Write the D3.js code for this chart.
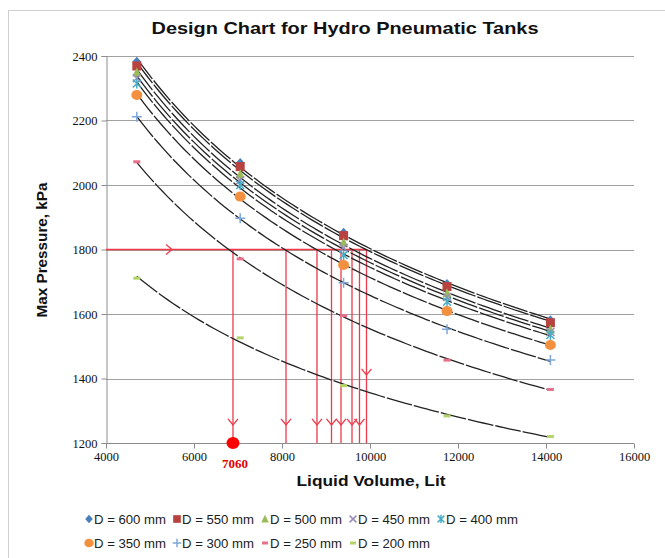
<!DOCTYPE html>
<html>
<head>
<meta charset="utf-8">
<script src="https://cdn.jsdelivr.net/npm/d3@7"></script>
<style>
  html, body { margin: 0; padding: 0; background: #fff; }
  svg { display: block; }
</style>
</head>
<body>
<div id="chart"></div>
<script>
// ---------------- DATA ----------------
const volumes = [4700, 7050, 9400, 11750, 14100];           // Liquid Volume, Lit
const seriesNames = ["D = 600 mm", "D = 550 mm", "D = 500 mm", "D = 450 mm", "D = 400 mm",
                     "D = 350 mm", "D = 300 mm", "D = 250 mm", "D = 200 mm"];
const d600 = [2382, 2068, 1852, 1693, 1581];
const d550 = [2369, 2057, 1843, 1685, 1573];
const d500 = [2349, 2033, 1822, 1664, 1552];
const d450 = [2331, 2015, 1805, 1653, 1544];
const d400 = [2315, 2000, 1783, 1638, 1535];
const d350 = [2279, 1964, 1752, 1609, 1504];
const d300 = [2212, 1897, 1697, 1553, 1457];
const d250 = [2072, 1771, 1595, 1457, 1366];
const d200 = [1711, 1526, 1378, 1284, 1220];
const seriesValues = [d600, d550, d500, d450, d400, d350, d300, d250, d200];

const xTicks = [4000, 6000, 8000, 10000, 12000, 14000, 16000];
const yTicks = [1200, 1400, 1600, 1800, 2000, 2200, 2400];

// red design annotation
const designPressure = 1800;
const crossVolumes = [6886, 8091, 8795, 9125, 9341, 9591, 9761, 9920];
const arrowPressures = [1256, 1256, 1256, 1256, 1256, 1256, 1256, 1411];
const horizArrowVolume = 5500;
const selectedLabel = "7060";

// ---------------- STYLE ----------------
const W = 665, H = 558;
const markerShapes = ["diamond", "square", "triangle", "x", "star", "circle", "plus", "dash", "dash"];
const markerColors = ["#4A7EBB", "#B8423F", "#9BBB59", "#9A8CB8", "#4BACC6",
                      "#F39040", "#7DA7D9", "#E8708A", "#B5D36B"];

const svg = d3.select("#chart").append("svg")
  .attr("width", W).attr("height", H)
  .style("font-family", "'Liberation Sans', Arial, sans-serif");

svg.append("rect").attr("width", W).attr("height", H).attr("fill", "#fff");
svg.append("rect").attr("x", 8.5).attr("y", 10.5).attr("width", 670).attr("height", 560)
  .attr("fill", "none").attr("stroke", "#d0d0d0").attr("stroke-width", 1);

const x = d3.scaleLinear().domain([4000, 16000]).range([106, 634]);
const y = d3.scaleLinear().domain([1200, 2400]).range([443, 56]);

// title
svg.append("text").attr("x", 345).attr("y", 34).attr("text-anchor", "middle")
  .attr("font-size", 17).attr("font-weight", "bold").attr("fill", "#111")
  .attr("textLength", 387).attr("lengthAdjust", "spacingAndGlyphs")
  .text("Design Chart for Hydro Pneumatic Tanks");

// gridlines
svg.append("g").selectAll("line").data(yTicks.filter(t => t !== 1200)).join("line")
  .attr("x1", x(4000)).attr("x2", x(16000))
  .attr("y1", d => Math.round(y(d)) + 0.5).attr("y2", d => Math.round(y(d)) + 0.5)
  .attr("stroke", "#a0a0a0").attr("stroke-width", 1);

// axes
const yAxis = d3.axisLeft(y).tickValues(yTicks).tickSize(5).tickPadding(4).tickFormat(d3.format("d"));
const gy = svg.append("g").attr("transform", `translate(${x(4000) + 0.5},0)`).call(yAxis);
const xAxis = d3.axisBottom(x).tickValues(xTicks).tickSize(5).tickPadding(4).tickFormat(d3.format("d"));
const gx = svg.append("g").attr("transform", `translate(0,${Math.round(y(1200)) + 0.5})`).call(xAxis);
[gx, gy].forEach(g => {
  g.select(".domain").attr("stroke", "#8c8c8c");
  g.selectAll(".tick line").attr("stroke", "#8c8c8c");
  g.selectAll(".tick text").attr("fill", "#111").attr("font-size", 12.5)
    .attr("font-family", "'Liberation Serif', 'Times New Roman', serif");
});
gx.select(".domain").attr("d", `M${x(4000)},0H${x(16000)}`);

// axis titles
svg.append("text").attr("x", 371).attr("y", 486).attr("text-anchor", "middle")
  .attr("font-size", 14.5).attr("font-weight", "bold").attr("fill", "#111")
  .attr("textLength", 149).attr("lengthAdjust", "spacingAndGlyphs")
  .text("Liquid Volume, Lit");
svg.append("text").attr("transform", `translate(47,${250}) rotate(-90)`)
  .attr("text-anchor", "middle")
  .attr("font-size", 14).attr("font-weight", "bold").attr("fill", "#111")
  .attr("textLength", 135).attr("lengthAdjust", "spacingAndGlyphs")
  .text("Max Pressure, kPa");

// red annotation lines
const red = "#EE3A4A";
const ann = svg.append("g").attr("stroke", red).attr("stroke-width", 1.3).attr("fill", "none");
ann.append("line").attr("x1", x(4000)).attr("x2", x(d3.max(crossVolumes)))
  .attr("y1", y(designPressure)).attr("y2", y(designPressure));
ann.selectAll("line.v").data(crossVolumes).join("line").attr("class", "v")
  .attr("x1", d => x(d)).attr("x2", d => x(d))
  .attr("y1", y(designPressure)).attr("y2", y(1200));
ann.selectAll("path.arr").data(crossVolumes).join("path").attr("class", "arr")
  .attr("d", (d, i) => {
    const cx = x(d), cy = y(arrowPressures[i]);
    return `M${cx - 5},${cy - 6}L${cx},${cy}L${cx + 5},${cy - 6}`;
  });
ann.append("path").attr("d", () => {
  const cx = x(horizArrowVolume), cy = y(designPressure);
  return `M${cx - 6},${cy - 5}L${cx},${cy}L${cx - 6},${cy + 5}`;
});

// trend curves (power fit y = a*x^b)
function powerFit(xs, ys) {
  const lx = xs.map(Math.log), ly = ys.map(Math.log);
  const mx = d3.mean(lx), my = d3.mean(ly);
  const b = d3.sum(lx.map((v, i) => (v - mx) * (ly[i] - my))) / d3.sum(lx.map(v => (v - mx) ** 2));
  const a = Math.exp(my - b * mx);
  return v => a * Math.pow(v, b);
}
const line = d3.line().x(d => x(d[0])).y(d => y(d[1])).curve(d3.curveLinear);
const samples = d3.range(0, 81).map(i => volumes[0] + (volumes[volumes.length - 1] - volumes[0]) * i / 80);
seriesValues.forEach(vals => {
  const f = powerFit(volumes, vals);
  svg.append("path").datum(samples.map(v => [v, f(v)]))
    .attr("d", line).attr("fill", "none").attr("stroke", "#222")
    .attr("stroke-width", 1.3).attr("stroke-dasharray", "26,2");
});

// markers
function drawMarker(g, shape, color, cx, cy, s = 1) {
  switch (shape) {
    case "diamond":
      g.append("path").attr("d", `M${cx},${cy - 5 * s}L${cx + 4.5 * s},${cy}L${cx},${cy + 5 * s}L${cx - 4.5 * s},${cy}Z`).attr("fill", color); break;
    case "square":
      g.append("rect").attr("x", cx - 4.5 * s).attr("y", cy - 4.5 * s).attr("width", 9 * s).attr("height", 9 * s).attr("fill", color); break;
    case "triangle":
      g.append("path").attr("d", `M${cx},${cy - 5 * s}L${cx + 4.5 * s},${cy + 4 * s}L${cx - 4.5 * s},${cy + 4 * s}Z`).attr("fill", color); break;
    case "x":
      g.append("path").attr("d", `M${cx - 4 * s},${cy - 4 * s}L${cx + 4 * s},${cy + 4 * s}M${cx + 4 * s},${cy - 4 * s}L${cx - 4 * s},${cy + 4 * s}`)
        .attr("stroke", color).attr("stroke-width", 1.5).attr("fill", "none"); break;
    case "star":
      g.append("path").attr("d", `M${cx - 4 * s},${cy - 4 * s}L${cx + 4 * s},${cy + 4 * s}M${cx + 4 * s},${cy - 4 * s}L${cx - 4 * s},${cy + 4 * s}M${cx},${cy - 5 * s}L${cx},${cy + 5 * s}`)
        .attr("stroke", color).attr("stroke-width", 1.5).attr("fill", "none"); break;
    case "circle":
      g.append("ellipse").attr("cx", cx).attr("cy", cy).attr("rx", 5.5 * s).attr("ry", 5 * s).attr("fill", color); break;
    case "plus":
      g.append("path").attr("d", `M${cx - 5 * s},${cy}L${cx + 5 * s},${cy}M${cx},${cy - 5 * s}L${cx},${cy + 5 * s}`)
        .attr("stroke", color).attr("stroke-width", 1.5).attr("fill", "none"); break;
    case "dash":
      g.append("rect").attr("x", cx - 3.5 * s).attr("y", cy - 1.5).attr("width", 7 * s).attr("height", 3).attr("fill", color); break;
  }
}
const mg = svg.append("g");
seriesValues.forEach((vals, si) => {
  vals.forEach((v, i) => drawMarker(mg, markerShapes[si], markerColors[si], x(volumes[i]), y(v)));
});

// selected point
svg.append("ellipse").attr("cx", x(crossVolumes[0])).attr("cy", y(1200)).attr("rx", 6.5).attr("ry", 6)
  .attr("fill", "#ff0000");
svg.append("text").attr("x", x(crossVolumes[0]) + 2).attr("y", 468).attr("text-anchor", "middle")
  .attr("font-family", "'Liberation Serif', 'Times New Roman', serif")
  .attr("font-size", 13).attr("font-weight", "bold").attr("fill", "#e00000")
  .text(selectedLabel);

// legend
const legendPos = [[89, 519], [177, 519], [265, 519], [353, 519], [441, 519],
                   [89, 543], [177, 543], [265, 543], [353, 543]];
const lg = svg.append("g");
seriesNames.forEach((name, i) => {
  const [lx, ly] = legendPos[i];
  drawMarker(lg, markerShapes[i], markerColors[i], lx, ly, 0.85);
  lg.append("text").attr("x", lx + 5).attr("y", ly + 4.5)
    .attr("font-size", 12.5).attr("fill", "#222").attr("textLength", 72).attr("lengthAdjust", "spacingAndGlyphs")
    .text(name);
});
</script>
</body>
</html>
